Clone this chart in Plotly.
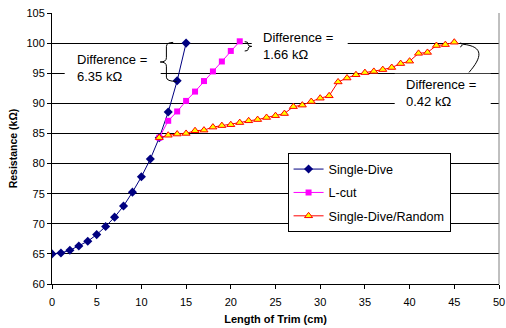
import plotly.graph_objects as go

# ---------------- data ----------------
x_single = list(range(0, 16))
y_single = [65.0, 65.15, 65.6, 66.3, 67.1, 68.2, 69.55, 71.1, 72.95, 75.25,
            77.8, 80.75, 84.3, 88.55, 93.75, 100.0]

x_lcut = list(range(12, 22))
y_lcut = [84.3, 87.1, 88.65, 90.4, 91.95, 93.7, 95.3, 96.95, 98.7, 100.3]

x_random = list(range(12, 46))
y_random = [84.3, 84.7, 84.9, 85.0, 85.45, 85.55, 86.05, 86.3, 86.45, 86.8,
            87.1, 87.3, 87.65, 87.95, 88.3, 89.45, 89.7, 90.3, 90.85, 91.25,
            93.55, 94.2, 94.75, 95.1, 95.3, 95.6, 95.95, 96.6, 97.0, 98.3,
            98.45, 99.6, 99.75, 100.15]

x_ticks = list(range(0, 51, 5))
y_ticks = list(range(60, 106, 5))

FONT = "Arial, Liberation Sans, sans-serif"

# plot area in pixels (for placing decorations)
L, R, T, B = 52.3, 499.3, 13.3, 284.3
def px2x(px):
    return (px - L) / (R - L) * 50.0
def py2y(py):
    return 105.0 - (py - T) / (B - T) * 45.0

fig = go.Figure()
fig.add_trace(go.Scatter(
    x=x_single, y=y_single, name="Single-Dive", mode="lines+markers",
    line=dict(color="#000080", width=1),
    marker=dict(symbol="diamond", size=7, color="#000080"),
    legendgroup="a"))
fig.add_trace(go.Scatter(
    x=x_lcut, y=y_lcut, name="L-cut", mode="lines+markers",
    line=dict(color="#FF00FF", width=1),
    marker=dict(symbol="square", size=6, color="#FF00FF"),
    legendgroup="b"))
fig.add_trace(go.Scatter(
    x=x_random, y=y_random, name="Single-Dive/Random", mode="lines+markers",
    line=dict(color="#FF0000", width=1),
    marker=dict(symbol="triangle-up", size=7, color="#FFFF00",
                line=dict(color="#FF0000", width=1)),
    legendgroup="c"))

shapes = []
# white boxes behind the annotation texts (hide gridlines)
for (x0, x1, y0, y1) in [(65, 161, 49, 87), (252, 348, 28, 65), (395, 491, 74, 112)]:
    shapes.append(dict(type="rect", xref="x", yref="y", layer="between",
                       x0=px2x(x0), x1=px2x(x1), y0=py2y(y0), y1=py2y(y1),
                       fillcolor="white", line=dict(width=0)))

def P(px, py):
    return f"{px2x(px):.4f},{py2y(py):.4f}"

# left brace for 6.35
b1 = (f"M {P(173.5,42.7)} Q {P(166.7,42.7)} {P(166.7,47)} L {P(166.7,58)} "
      f"Q {P(166.7,62.3)} {P(160.5,62.3)} Q {P(166.7,62.3)} {P(166.7,66.5)} "
      f"L {P(166.7,77.5)} Q {P(166.7,81.7)} {P(177,81.7)}")
# small right brace for 1.66
b2 = (f"M {P(245,42)} Q {P(248.5,42)} {P(248.5,44)} L {P(248.5,45)} "
      f"Q {P(248.5,46.7)} {P(252,46.7)} Q {P(248.5,46.7)} {P(248.5,48.4)} "
      f"L {P(248.5,49.5)} Q {P(248.5,51.3)} {P(245,51.3)}")
# small brace + curved connector for 0.42
b3 = (f"M {P(460.5,43.3)} Q {P(462.5,43.3)} {P(462.5,45)} "
      f"Q {P(462.5,46.5)} {P(460.5,47.3)}")
b4 = f"M {P(463.3,44.5)} C {P(485,47)} {P(482,58)} {P(469.3,72.7)}"
for path in (b1, b2, b3, b4):
    shapes.append(dict(type="path", xref="x", yref="y", path=path,
                       line=dict(color="black", width=1), layer="above"))
# gray right border of the plot area
shapes.append(dict(type="line", xref="paper", yref="paper", x0=1, x1=1, y0=0, y1=1,
                   line=dict(color="#808080", width=1)))

annotations = []
for (tx, ty, txt) in [(75, 68, "Difference =<br>6.35 kΩ"),
                      (261.7, 46.7, "Difference =<br>1.66 kΩ"),
                      (404.3, 93.3, "Difference =<br>0.42 kΩ")]:
    annotations.append(dict(x=px2x(tx), y=py2y(ty), xref="x", yref="y",
                            text=txt, showarrow=False, xanchor="left",
                            yanchor="middle", align="left",
                            font=dict(family=FONT, size=13, color="black")))

fig.update_layout(
    width=506, height=328,
    margin=dict(l=52, r=7, t=13, b=44, autoexpand=False),
    paper_bgcolor="white", plot_bgcolor="white",
    font=dict(family=FONT, size=11, color="black"),
    shapes=shapes, annotations=annotations,
    legend=dict(x=0.527, y=0.482, xanchor="left", yanchor="top",
                bgcolor="white", bordercolor="black", borderwidth=1,
                font=dict(family=FONT, size=12.6, color="black"),
                tracegroupgap=4, itemwidth=30),
    showlegend=True,
)
fig.update_xaxes(
    range=[0, 50], tickvals=x_ticks, ticks="outside", ticklen=4,
    tickcolor="black", showline=True, linecolor="black", linewidth=1,
    showgrid=False, zeroline=False, ticklabelstandoff=4, automargin=False,
    tickfont=dict(family=FONT, size=11, color="black"),
    title=dict(text="<b>Length of Trim (cm)</b>", standoff=8,
               font=dict(family=FONT, size=11, color="black")))
fig.update_yaxes(
    range=[60, 105], tickvals=y_ticks, ticks="outside", ticklen=4,
    tickcolor="black", showline=True, linecolor="black", linewidth=1,
    showgrid=True, gridcolor="black", gridwidth=1, zeroline=False,
    automargin=False,
    tickfont=dict(family=FONT, size=11, color="black"),
    title=dict(text="<b>Resistance (kΩ)</b>", standoff=6,
               font=dict(family=FONT, size=10.5, color="black")))

fig.write_html("out.html", config={"displayModeBar": False},
               post_script="document.body.style.margin='0';document.body.style.padding='0';")
